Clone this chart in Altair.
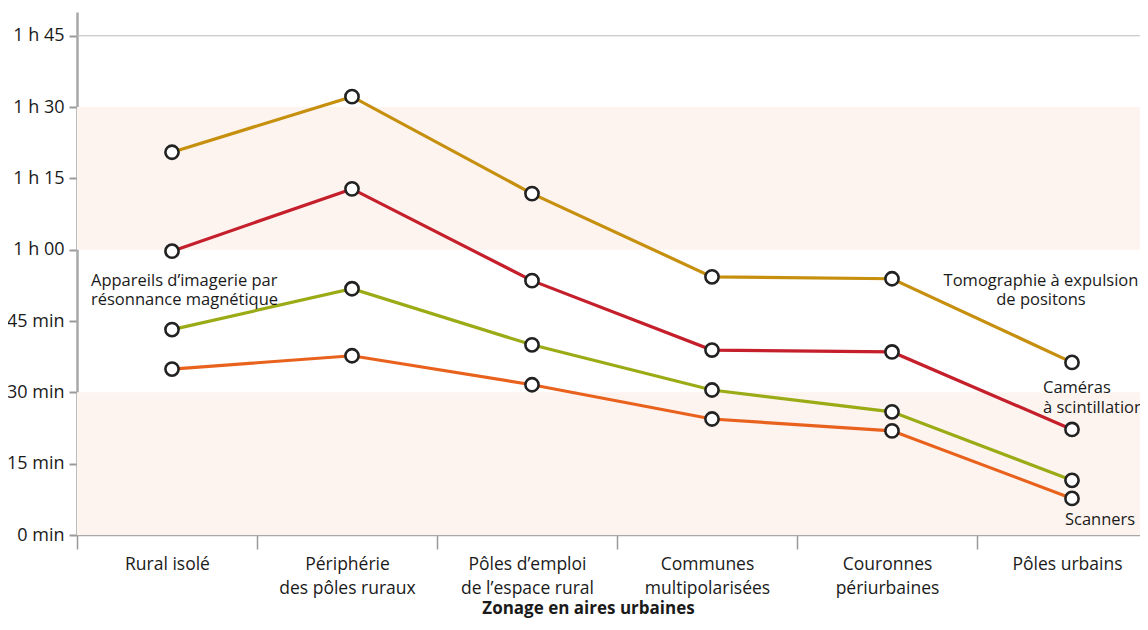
import json
import altair as alt
import pandas as pd

zones = ["Rural isolé", "Périphérie des pôles ruraux", "Pôles d’emploi de l’espace rural",
         "Communes multipolarisées", "Couronnes périurbaines", "Pôles urbains"]
zone_labels = [["Rural isolé"], ["Périphérie", "des pôles ruraux"], ["Pôles d’emploi", "de l’espace rural"],
               ["Communes", "multipolarisées"], ["Couronnes", "périurbaines"], ["Pôles urbains"]]

series = ["Tomographie à expulsion de positons", "Caméras à scintillation",
          "Appareils d’imagerie par résonnance magnétique", "Scanners"]
tep = [80.5, 92.2, 71.8, 54.3, 53.9, 36.3]
cam = [59.7, 72.8, 53.5, 38.9, 38.5, 22.2]
irm = [43.2, 51.8, 40.0, 30.5, 25.9, 11.5]
scan = [34.9, 37.7, 31.6, 24.4, 21.9, 7.7]
colors = ["#c68f0e", "#c41f2b", "#9aab16", "#e9621d"]

tick_values = [0, 15, 30, 45, 60, 75, 90, 105]
tick_labels = ["0 min", "15 min", "30 min", "45 min", "1 h 00", "1 h 15", "1 h 30", "1 h 45"]

band_lo = [0, 60]
band_hi = [30, 90]

ann_text = [["Appareils d’imagerie par", "résonnance magnétique"],
            ["Tomographie à expulsion", "de positons"],
            ["Caméras", "à scintillation"],
            ["Scanners"]]
ann_zone = ["Rural isolé", "Pôles urbains", "Pôles urbains", "Pôles urbains"]
ann_value = [53.5, 53.5, 30.9, 3.2]

rows = []
for s, vals in zip(series, [tep, cam, irm, scan]):
    for z, v in zip(zones, vals):
        rows.append({"zone": z, "value": v, "serie": s})
df = pd.DataFrame(rows)

bands = pd.DataFrame({"lo": band_lo, "hi": band_hi})
grid = pd.DataFrame({"v": [105]})
ann = pd.DataFrame({"zone": ann_zone, "value": ann_value, "text": ann_text})

xlab = json.dumps({z: l for z, l in zip(zones, zone_labels)}, ensure_ascii=False)
ylab = json.dumps({str(v): l for v, l in zip(tick_values, tick_labels)}, ensure_ascii=False)

W = 1080
xscale = alt.Scale(type="band", domain=zones, paddingInner=0, paddingOuter=0)
yscale = alt.Scale(domain=[0, 110], nice=False, zero=True)

xaxis = alt.Axis(
    title="Zonage en aires urbaines", titleFontWeight="bold", titleFontSize=17,
    titleX=511, titleY=65, titleAnchor="middle", titleBaseline="top", titleColor="#1a1a1a",
    labelExpr=f"{xlab}[datum.value]", labelAngle=0, labelFontSize=17.5, labelColor="#1a1a1a",
    labelLineHeight=24, labelPadding=6, labelBaseline="top",
    tickBand="extent", tickSize=14, tickColor="#9a9a9a", tickWidth=1.5,
    domainColor="#a8a8a8", domainWidth=1.5, grid=False,
)
yaxis = alt.Axis(
    title=None, values=tick_values, labelExpr=f"{ylab}[datum.value]",
    labelFontSize=18, labelColor="#1a1a1a", labelPadding=5,
    tickSize=8, tickColor="#9a9a9a", tickWidth=2,
    domainColor="#a8a8a8", domainWidth=2.5, grid=False,
)

band_layer = alt.Chart(bands).mark_rect(color="#fdf4ef").encode(
    x=alt.value(0), x2=alt.value(W),
    y=alt.Y("lo:Q", scale=yscale, axis=yaxis), y2="hi:Q",
)
grid_layer = alt.Chart(grid).mark_rule(color="#bdbdbd", strokeWidth=1).encode(
    x=alt.value(0), x2=alt.value(W), y=alt.Y("v:Q", scale=yscale),
)

color = alt.Color("serie:N", scale=alt.Scale(domain=series, range=colors), legend=None)

lines = alt.Chart(df).mark_line(strokeWidth=3.2, xOffset=5).encode(
    x=alt.X("zone:N", scale=xscale, axis=xaxis, sort=zones),
    y=alt.Y("value:Q", scale=yscale),
    color=color,
    detail="serie:N",
)
points = alt.Chart(df).mark_point(shape="circle", size=175, filled=False, fill="white",
                                  fillOpacity=1, stroke="#222222", strokeWidth=2.6,
                                  opacity=1, xOffset=5).encode(
    x=alt.X("zone:N", scale=xscale, sort=zones),
    y=alt.Y("value:Q", scale=yscale),
)

base_txt = dict(font="Open Sans", fontSize=16.5, color="#1a1a1a", lineHeight=19.5, baseline="middle")
t_irm = alt.Chart(ann.iloc[[0]]).mark_text(align="left", dx=-76, **base_txt).encode(
    x=alt.X("zone:N", scale=xscale), y=alt.Y("value:Q", scale=yscale), text="text")
t_tep = alt.Chart(ann.iloc[[1]]).mark_text(align="center", dx=-26, **base_txt).encode(
    x=alt.X("zone:N", scale=xscale), y=alt.Y("value:Q", scale=yscale), text="text")
t_cam = alt.Chart(ann.iloc[[2]]).mark_text(align="left", dx=-24, **base_txt).encode(
    x=alt.X("zone:N", scale=xscale), y=alt.Y("value:Q", scale=yscale), text="text")
t_scan = alt.Chart(ann.iloc[[3]]).mark_text(align="left", dx=-2, **base_txt).encode(
    x=alt.X("zone:N", scale=xscale), y=alt.Y("value:Q", scale=yscale), text="text")

chart = alt.layer(band_layer, grid_layer, lines, points, t_irm, t_tep, t_cam, t_scan).properties(
    width=W, height=523,
    padding={"left": 69, "top": 4, "right": -17, "bottom": 87},
    autosize=alt.AutoSizeParams(type="none"),
).configure(font="Open Sans").configure_view(stroke=None)

chart.save("out.html", embed_options={"renderer": "svg", "actions": False})
